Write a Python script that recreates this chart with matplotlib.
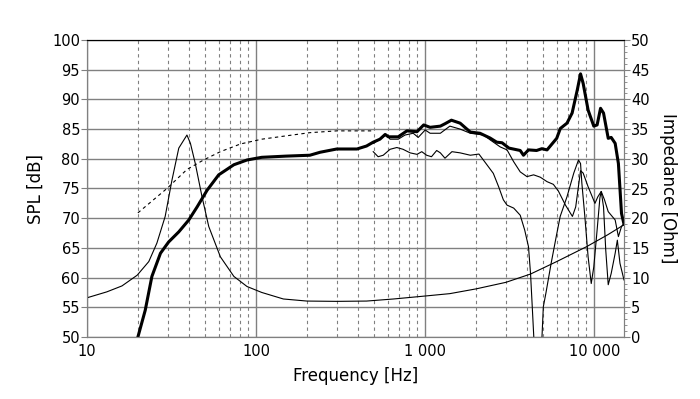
import numpy as np
import matplotlib
matplotlib.use('Agg')
import matplotlib.pyplot as plt
from matplotlib.ticker import FixedLocator, LogLocator, NullFormatter, MultipleLocator

# impedance curve [Ohm]
imp_f = [10, 13.1, 16.1, 19.8, 23.2, 25.9, 29, 31.8, 34.9, 39, 40.9, 43.7, 47.9, 52.5, 61.5,
         73.9, 88.4, 108, 145, 200, 300, 450, 650, 1000, 1400, 2000, 3000, 4200, 6000, 9000,
         12000, 15000]
imp = [6.6, 7.6, 8.6, 10.4, 12.7, 15.8, 20.3, 26.4, 31.8, 34.0, 32.6, 29.2, 23.6, 18.6, 13.5,
       10.2, 8.5, 7.5, 6.4, 6.05, 6.0, 6.05, 6.4, 6.9, 7.3, 8.1, 9.2, 10.6, 12.7, 15.2,
       17.2, 18.9]

# on-axis SPL (thick)
spl_f = [20, 22.1, 24.2, 27.2, 30.4, 34.9, 40, 44.8, 51.3, 60.1, 73.9, 88.4, 108, 150, 208,
         239, 300, 395, 450, 493, 540, 580, 606, 693, 780, 895, 980, 1070, 1230, 1310, 1430,
         1610, 1850, 2110, 2420, 2650, 2850, 3130, 3650, 3815, 4085, 4560, 4900, 5260, 6000,
         6300, 6900, 7400, 7940, 8300, 8600, 9200, 9940, 10400, 10900, 11350, 12100, 12600,
         13300, 13900, 14500, 15000]
spl = [50, 54.5, 60.2, 64.1, 66.0, 67.7, 69.7, 71.9, 74.7, 77.3, 79.0, 79.8, 80.25, 80.45, 80.6,
       81.1, 81.65, 81.65, 82.15, 82.8, 83.3, 84.1, 83.7, 83.7, 84.7, 84.56, 85.7, 85.3, 85.5, 85.9, 86.5,
       86.0, 84.5, 84.3, 83.5, 82.8, 82.7, 81.8, 81.4, 80.6, 81.5, 81.4, 81.7, 81.5, 83.45,
       85.1, 86.0, 87.7, 91.6, 94.3, 92.7, 88.2, 85.5, 85.7, 88.5, 87.7, 83.45, 83.6,
       82.6, 79.2, 70.8, 69.0]

# low frequency curve (dashed)
dash_f = [20, 29.7, 39, 48.9, 61.5, 80.9, 108, 145, 208, 300, 490]
dash = [70.9, 75.0, 78.2, 79.8, 81.2, 82.5, 83.3, 83.8, 84.4, 84.7, 84.7]

# off-axis curves (thin)
a_f = [493, 550, 590, 620, 693, 760, 850, 910, 1000, 1070, 1230, 1400, 1610, 1850, 2220, 2420,
       2780, 3050, 3340, 3650, 4000, 4380, 4800, 5260, 5730, 6130, 6760, 7430, 7770, 8300, 8600,
       9200, 10100, 10500, 11000, 11500, 12100, 13300, 13900, 14500, 15000]
a = [82.6, 83.45, 84.1, 83.3, 83.3, 84.0, 84.3, 83.6, 84.85, 84.3, 84.3, 85.5, 85.0, 84.3, 84.0, 83.2,
     82.0, 81.5, 79.5, 77.8, 77.0, 77.3, 76.9, 76.15, 75.7, 74.6, 72.2, 70.3, 71.9, 78.0, 77.6,
     75.3, 72.5, 73.6, 74.5, 73.1, 71.1, 69.7, 66.9, 68.6, 69.1]

b_f = [493, 527, 565, 620, 680, 740, 815, 895, 955, 1020, 1090, 1170, 1230, 1310, 1440, 1610,
       1850, 2080, 2250, 2530, 2720, 2900, 3050, 3340, 3650, 3880, 4085, 4200, 4300, 4400, 4650,
       4900, 5000, 5180, 5560, 5960, 6290, 6900, 7570, 8070, 8300, 8450, 8800, 9200, 9600, 9940,
       10400, 10800, 11000, 11350, 11700, 12100, 12600, 13300, 13700, 14200, 15000]
b = [81.2, 80.35, 80.6, 81.6, 81.9, 81.6, 81.0, 80.75, 81.2, 80.6, 80.35, 81.4, 81.0, 80.1, 81.2, 81.0,
     80.6, 80.8, 79.5, 77.55, 75.3, 73.1, 72.2, 71.7, 70.5, 68.0, 65.2, 60.7, 55.1, 49.5, 45,
     49.5, 55.1, 57.4, 62.4, 66.9, 70.3, 73.6, 77.6, 79.8, 79.2, 75.9, 70.3, 63.5, 59.0, 61.8,
     68.0, 73.4, 74.5, 71.9, 64.6, 58.8, 60.7, 64.1, 66.3, 62.4, 59.6]

x_ticks = [10, 100, 1000, 10000]
x_labels = ['10', '100', '1 000', '10 000']

grid_col = '#808080'

fig = plt.figure(figsize=(7, 3.99), dpi=100)
ax = fig.add_axes([87/700, 1-337/399, 537/700, 297/399])
ax2 = ax.twinx()

ax.set_xscale('log')
ax.set_xlim(10, 15000)
ax.set_ylim(50, 100)
ax2.set_ylim(0, 50)

ax.xaxis.set_major_locator(FixedLocator(x_ticks))
ax.set_xticklabels(x_labels)
ax.xaxis.set_minor_locator(LogLocator(base=10, subs=np.arange(2, 10)))
ax.xaxis.set_minor_formatter(NullFormatter())
ax.yaxis.set_major_locator(MultipleLocator(5))
ax2.yaxis.set_major_locator(MultipleLocator(5))
ax2.yaxis.set_minor_locator(MultipleLocator(1))

ax.grid(True, which='major', axis='both', color=grid_col, lw=1.0, ls='-')
ax.grid(True, which='minor', axis='x', color=grid_col, lw=0.8, ls=(0, (3, 3)))
ax.set_axisbelow(True)

ax.tick_params(axis='x', which='both', length=0, labelsize=10.5, pad=5)
ax.tick_params(axis='y', which='major', length=4, color=grid_col, labelsize=10.5, pad=1)
ax2.tick_params(axis='y', which='major', length=4, color=grid_col, labelsize=10.5, pad=1)
ax2.tick_params(axis='y', which='minor', length=2, color=grid_col)

for a_ in (ax, ax2):
    for s in ('left', 'right', 'bottom'):
        a_.spines[s].set_color(grid_col)
    a_.spines['top'].set_color('black')

ax.plot(dash_f, dash, color='black', lw=0.8, ls=(0, (3, 3)))
ax.plot(b_f, b, color='black', lw=0.8)
ax.plot(a_f, a, color='black', lw=0.8)
ax.plot(spl_f, spl, color='black', lw=2.2)
ax2.plot(imp_f, imp, color='black', lw=0.8)

ax.set_xlabel('Frequency [Hz]', fontsize=12, labelpad=6)
ax.set_ylabel('SPL [dB]', fontsize=12, labelpad=5)
ax2.set_ylabel('Impedance [Ohm]', fontsize=12, rotation=270, labelpad=20)

fig.savefig('out.png', dpi=100)
